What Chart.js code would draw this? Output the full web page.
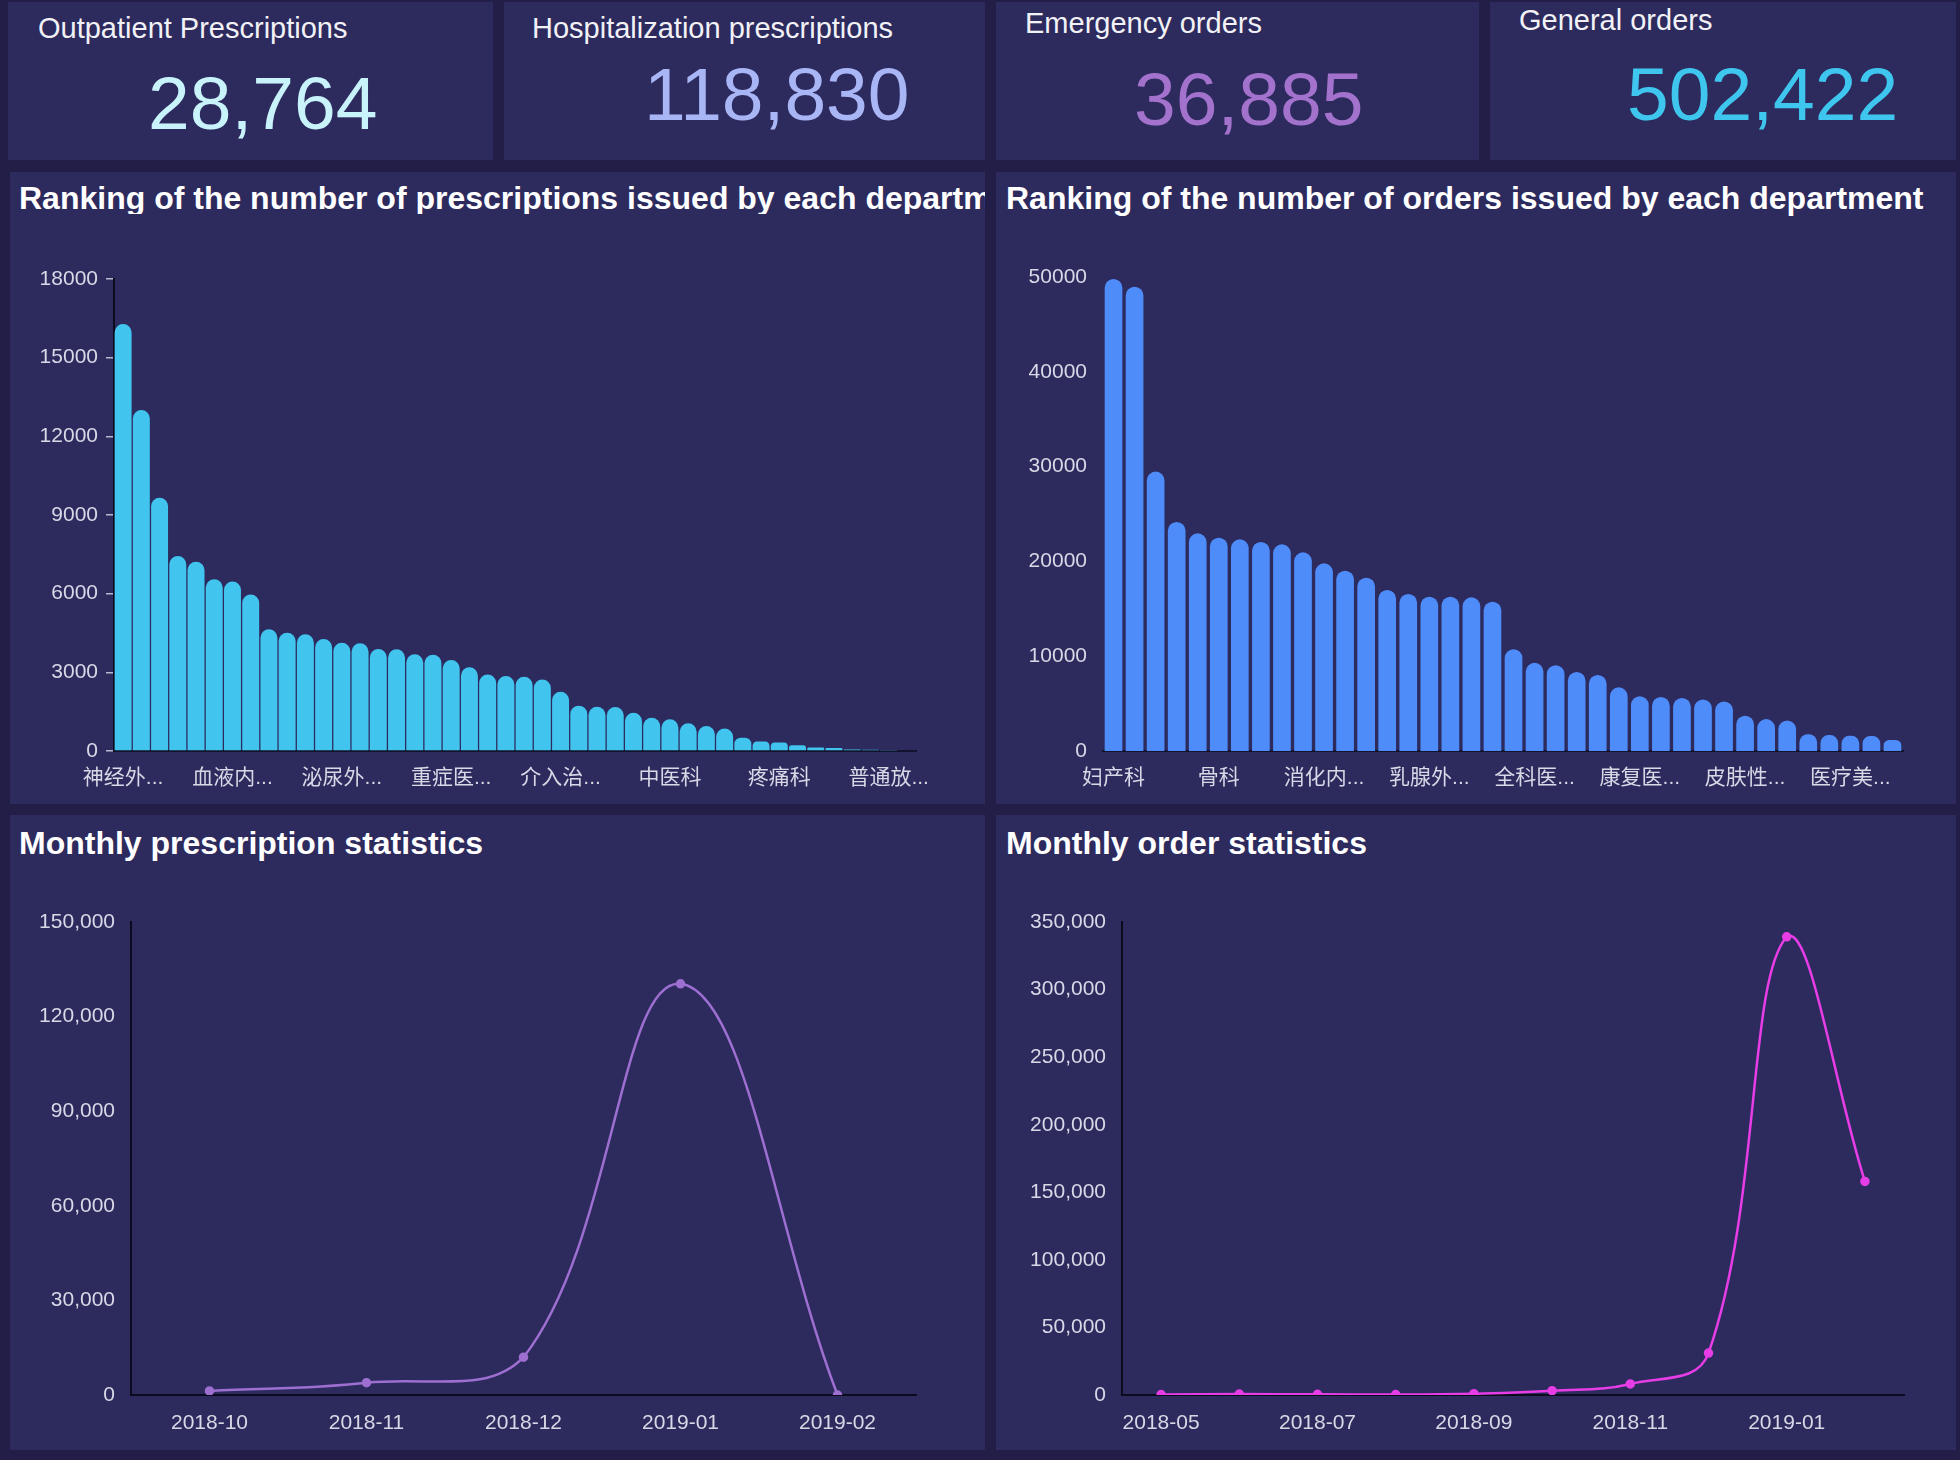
<!DOCTYPE html>
<html>
<head>
<meta charset="utf-8">
<script src="https://cdn.jsdelivr.net/npm/chart.js"></script>
<style>
  html, body { margin: 0; padding: 0; }
  body { width: 1960px; height: 1460px; background: #231e48; position: relative; overflow: hidden;
         font-family: "Liberation Sans", "Noto Sans CJK SC", sans-serif; }
  .panel { position: absolute; background: #2d2a5e; overflow: hidden; }
  .card-title { position: absolute; color: #f2f2f6; font-size: 29px; line-height: 29px; white-space: nowrap; }
  .card-value { position: absolute; font-size: 75px; line-height: 75px; white-space: nowrap; }
  .panel-title { position: absolute; color: #ffffff; font-size: 32px; line-height: 32px; font-weight: bold; white-space: nowrap; }
  canvas { position: absolute; }
</style>
</head>
<body>
<script>
// Chiffres des cartes du haut
const cardTitles = ["Outpatient Prescriptions", "Hospitalization prescriptions", "Emergency orders", "General orders"];
const cardValues = [28764, 118830, 36885, 502422];

// Classement des prescriptions par service
const prescriptionDepts = ["神经外科", "心血管内科", "呼吸内科", "普通外科", "肿瘤科", "肾内科", "血液内科", "内分泌科",
  "骨科", "急诊科", "消化内科", "儿科", "泌尿外科", "神经内科", "妇产科", "眼科", "耳鼻喉科", "胸外科",
  "重症医学科", "感染科", "风湿免疫科", "口腔科", "皮肤科", "老年病科", "介入治疗科", "康复医学科", "乳腺外科",
  "甲状腺外科", "肝胆外科", "全科医学科", "中医科", "麻醉科", "核医学科", "精神心理科", "营养科", "针灸科",
  "疼痛科", "烧伤科", "整形外科", "手足外科", "血管外科", "健康管理科", "普通放射科", "病理科"];
const prescriptionCounts = [16280, 13000, 9660, 7440, 7220, 6550, 6460, 5970, 4640, 4510, 4450, 4270, 4130, 4110,
  3890, 3880, 3690, 3670, 3470, 3190, 2920, 2860, 2830, 2730, 2260, 1730, 1690, 1680, 1460, 1270, 1210, 1060,
  950, 860, 510, 360, 320, 220, 130, 110, 60, 50, 40, 30];

// Classement des ordonnances par service
const orderDepts = ["妇产科", "心血管内科", "神经外科", "呼吸内科", "肿瘤科", "骨科", "普通外科", "神经内科", "肾内科",
  "急诊科", "消化内科", "血液内科", "内分泌科", "儿科", "泌尿外科", "乳腺外科", "重症医学科", "眼科", "耳鼻喉科",
  "胸外科", "全科医学科", "感染科", "老年病科", "肝胆外科", "风湿免疫科", "康复医学科", "口腔科", "介入治疗科",
  "甲状腺外科", "中医科", "皮肤性病科", "麻醉科", "疼痛科", "核医学科", "营养科", "医疗美容科", "针灸科", "烧伤科"];
const orderCounts = [49790, 48980, 29470, 24160, 22960, 22500, 22330, 22050, 21800, 20960, 19800, 19020, 18280,
  16980, 16560, 16280, 16280, 16210, 15750, 10740, 9300, 9050, 8330, 8020, 6720, 5780, 5700, 5600, 5430, 5220,
  3720, 3370, 3220, 1780, 1680, 1620, 1580, 1160];

// Statistiques mensuelles
const prescriptionMonths = ["2018-10", "2018-11", "2018-12", "2019-01", "2019-02"];
const prescriptionMonthly = [1300, 3900, 12000, 130400, 0];
const orderMonths = ["2018-05", "2018-06", "2018-07", "2018-08", "2018-09", "2018-10", "2018-11", "2018-12", "2019-01", "2019-02"];
const orderMonthly = [300, 700, 500, 300, 1000, 3200, 8200, 31000, 339000, 158000];

Chart.defaults.font.family = "'Liberation Sans', 'Noto Sans CJK SC', sans-serif";
Chart.defaults.font.size = 21;
Chart.defaults.color = "#d8d8e6";

function addBox(cls, left, top, width, height) {
  const el = document.createElement("div");
  el.className = cls;
  el.style.left = left + "px";
  el.style.top = top + "px";
  if (width) el.style.width = width + "px";
  if (height) el.style.height = height + "px";
  document.body.appendChild(el);
  return el;
}

function addText(cls, text, left, top, color) {
  const el = addBox(cls, left, top);
  el.textContent = text;
  if (color) el.style.color = color;
  return el;
}

function addCanvas(left, top, width, height) {
  const canvas = document.createElement("canvas");
  canvas.width = width;
  canvas.height = height;
  canvas.style.left = left + "px";
  canvas.style.top = top + "px";
  canvas.style.width = width + "px";
  canvas.style.height = height + "px";
  document.body.appendChild(canvas);
  return canvas;
}

// Cartes du haut
const cardBoxes = [[8, 2, 485, 158], [504, 2, 481, 158], [996, 2, 483, 158], [1490, 2, 466, 158]];
const cardTitlePos = [[38, 14], [532, 14], [1025, 9], [1519, 6]];
const cardValuePos = [[148, 66], [644, 57], [1134, 62], [1627, 57]];
const cardColors = ["#c9f3fb", "#a9b6f6", "#a272cc", "#3fc6ee"];
for (let i = 0; i < cardTitles.length; i++) {
  addBox("panel", ...cardBoxes[i]);
  addText("card-title", cardTitles[i], cardTitlePos[i][0], cardTitlePos[i][1]);
  addText("card-value", cardValues[i].toLocaleString("en-US"), cardValuePos[i][0], cardValuePos[i][1], cardColors[i]);
}

// Panneaux des graphiques
addBox("panel", 10, 172, 975, 632);
addBox("panel", 996, 172, 960, 632);
addBox("panel", 10, 815, 975, 635);
addBox("panel", 996, 815, 960, 635);

function shortName(name) {
  return name.length > 3 ? name.slice(0, 3) + "..." : name;
}

function makeBarChart(canvas, labels, values, opts) {
  return new Chart(canvas, {
    type: "bar",
    data: {
      labels: labels,
      datasets: [{
        data: values,
        backgroundColor: opts.color,
        borderRadius: opts.radius,
        borderSkipped: "start",
        barPercentage: opts.barPercentage,
        categoryPercentage: 1.0,
      }],
    },
    options: {
      responsive: false,
      animation: false,
      devicePixelRatio: 1,
      layout: { padding: { left: 0, right: opts.padRight, top: opts.padTop, bottom: 0 } },
      plugins: { legend: { display: false }, tooltip: { enabled: false } },
      scales: {
        x: {
          grid: { display: false },
          border: { display: true, color: "#14132e", width: 2 },
          ticks: {
            autoSkip: false,
            maxRotation: 0,
            padding: 7,
            color: "#d8d8e6",
            callback: function (value, index) {
              return index % opts.labelEvery === 0 ? shortName(labels[index]) : "";
            },
          },
          afterFit: (scale) => { scale.height = 53; },
        },
        y: {
          min: 0,
          max: opts.max,
          grid: opts.tickMarks
            ? { drawOnChartArea: false, drawTicks: true, tickLength: 8, color: "rgba(210,210,225,0.85)", lineWidth: 1.5 }
            : { display: false },
          border: { display: opts.yBorder, color: "#0c0b1e", width: 2 },
          ticks: {
            stepSize: opts.step,
            padding: opts.tickMarks ? 8 : 8,
            color: "#d8d8e6",
            callback: (v) => String(v),
          },
          afterFit: (scale) => { scale.width = opts.yWidth; },
        },
      },
    },
  });
}

function makeLineChart(canvas, labels, values, opts) {
  return new Chart(canvas, {
    type: "line",
    data: {
      labels: labels,
      datasets: [{
        data: values,
        borderColor: opts.color,
        backgroundColor: opts.color,
        pointBackgroundColor: opts.color,
        pointBorderColor: opts.color,
        pointRadius: 3.5,
        borderWidth: 2.5,
        tension: 0.4,
        fill: false,
      }],
    },
    options: {
      responsive: false,
      animation: false,
      devicePixelRatio: 1,
      layout: { padding: { left: 0, right: opts.padRight, top: 107, bottom: 0 } },
      plugins: { legend: { display: false }, tooltip: { enabled: false } },
      scales: {
        x: {
          offset: true,
          grid: { display: false },
          border: { display: true, color: "#0c0b1e", width: 2 },
          ticks: {
            autoSkip: false,
            maxRotation: 0,
            padding: 8,
            color: "#d8d8e6",
            callback: function (value, index) {
              return index % opts.labelEvery === 0 ? labels[index] : "";
            },
          },
          afterFit: (scale) => { scale.height = 55; },
        },
        y: {
          min: 0,
          max: opts.max,
          grid: { display: false },
          border: { display: true, color: "#0c0b1e", width: 2 },
          ticks: {
            stepSize: opts.step,
            padding: 8,
            color: "#d8d8e6",
            callback: (v) => v.toLocaleString("en-US"),
          },
          afterFit: (scale) => { scale.width = opts.yWidth; },
        },
      },
    },
  });
}

// Titres des panneaux
const firstTitle = addText("panel-title", "Ranking of the number of prescriptions issued by each department", 19, 182);
firstTitle.style.width = "966px";
firstTitle.style.overflow = "hidden";
addText("panel-title", "Ranking of the number of orders issued by each department", 1006, 182);
addText("panel-title", "Monthly prescription statistics", 19, 827);
addText("panel-title", "Monthly order statistics", 1006, 827);

makeBarChart(addCanvas(10, 172, 975, 632), prescriptionDepts, prescriptionCounts, {
  color: "#41c4ee", radius: 9, barPercentage: 0.93, padRight: 69, padTop: 107,
  labelEvery: 6, max: 18000, step: 3000, tickMarks: true, yBorder: true, yWidth: 104,
});

makeBarChart(addCanvas(996, 172, 960, 632), orderDepts, orderCounts, {
  color: "#4e8cfa", radius: 9, barPercentage: 0.84, padRight: 53, padTop: 105,
  labelEvery: 5, max: 50000, step: 10000, tickMarks: false, yBorder: false, yWidth: 107,
});

makeLineChart(addCanvas(10, 815, 975, 635), prescriptionMonths, prescriptionMonthly, {
  color: "#9d6fd0", padRight: 69, labelEvery: 1, max: 150000, step: 30000, yWidth: 121,
});

makeLineChart(addCanvas(996, 815, 960, 635), orderMonths, orderMonthly, {
  color: "#e63de6", padRight: 52, labelEvery: 2, max: 350000, step: 50000, yWidth: 126,
});
</script>
</body>
</html>
